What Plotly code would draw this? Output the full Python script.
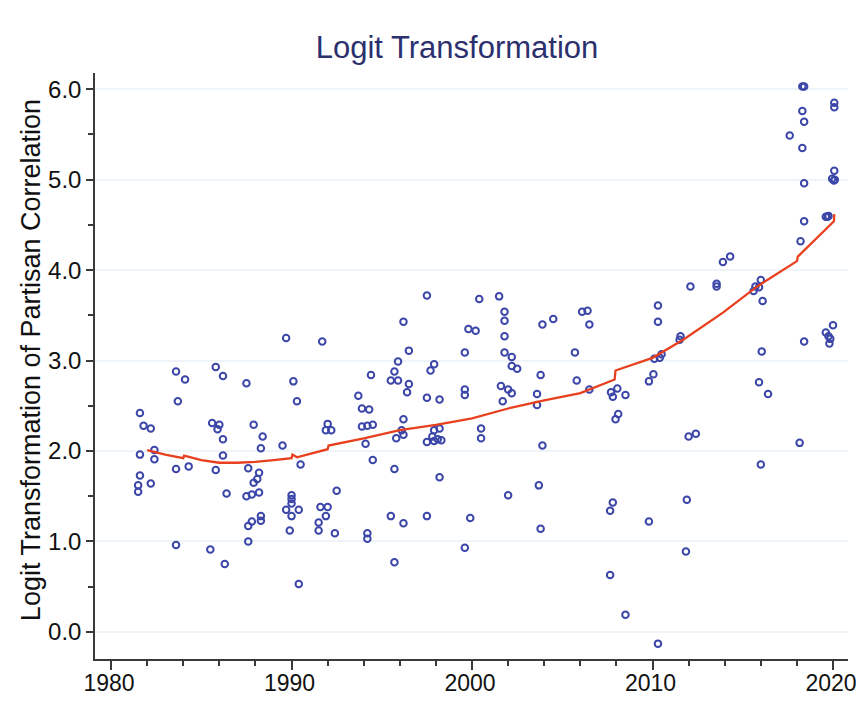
import plotly.graph_objects as go

# Scatter data: (year, logit transformation of partisan correlation)
years = [
    1983.6, 1984.1, 1985.8, 1986.2, 1987.5, 1990.1, 1981.6, 1981.8, 1982.2, 1983.7,
    1985.6, 1986.0, 1985.9, 1986.2, 1987.9, 1988.4, 1988.3, 1990.3, 1992.0, 1991.9,
    1992.2, 1981.6, 1982.4, 1982.4, 1989.5, 1986.2, 1983.6, 1984.3, 1985.8, 1987.6,
    1988.2, 1988.1, 1987.9, 1990.5, 1981.6, 1981.5, 1981.5, 1982.2, 1986.4, 1987.5,
    1987.8, 1988.2, 1990.0, 1990.0, 1990.0, 1989.7, 1990.4, 1990.0, 1989.9, 1988.3,
    1988.3, 1987.8, 1987.6, 1987.6, 1991.6, 1992.0, 1991.9, 1991.5, 1991.5, 1992.5,
    1992.4, 1983.6, 1985.5, 1986.3, 1990.4, 1989.7, 1991.7,
    1997.5, 2000.4, 2001.5, 2001.8, 2001.8, 1996.2, 1999.8, 2000.2, 2001.8, 2003.9,
    2004.5, 2006.1, 2006.4, 2006.5, 1996.5, 1999.6, 2001.8, 2002.2, 2005.7, 1995.9,
    1997.9,
    1997.7, 2002.2, 2002.5, 1994.4, 1995.7, 1995.5, 1995.9, 1996.5, 1996.4, 2003.8,
    2005.8, 2006.5, 2001.6, 2002.0, 2002.2, 1999.6, 1999.6, 2003.6, 2003.6, 2001.7,
    1997.5, 1998.2, 1993.7, 1993.9, 1994.3, 1996.2, 1993.9, 1994.2, 1994.5, 1996.1,
    1996.2, 1995.8, 1994.1, 1997.9, 1998.2, 1997.8, 1997.5, 1997.9, 1998.1, 1998.3,
    2000.5, 2000.5, 2003.9, 1994.5, 1995.7, 1998.2, 2003.7, 2002.0, 1995.5, 1996.2,
    1997.5, 1999.9, 2003.8, 1994.2, 1994.2, 1999.6, 1995.7,
    2018.3, 2018.4, 2020.07, 2020.07, 2018.3, 2018.4, 2017.6, 2018.3, 2020.07, 2019.95,
    2020.05, 2020.1, 2018.4, 2019.6, 2019.7, 2019.75, 2018.4, 2018.2, 2013.9, 2014.3,
    2012.1, 2013.55, 2013.55, 2016.0, 2015.7, 2015.9, 2015.6, 2016.1, 2010.3, 2010.3,
    2011.55, 2011.5, 2018.4, 2020.0, 2019.6, 2019.75, 2019.85, 2019.8, 2016.05, 2010.1,
    2010.4, 2010.5, 2015.9, 2016.4, 2018.15, 2007.7, 2007.8, 2008.05, 2008.5, 2009.8,
    2010.05, 2008.1, 2007.95, 2012.0, 2012.4, 2016.0, 2007.8, 2007.65, 2011.9, 2009.8,
    2011.85, 2007.65, 2008.5, 2010.3,
]
logit_values = [
    2.88, 2.79, 2.93, 2.83, 2.75, 2.77, 2.42, 2.28, 2.25, 2.55,
    2.31, 2.29, 2.24, 2.13, 2.29, 2.16, 2.03, 2.55, 2.30, 2.23,
    2.23, 1.96, 2.01, 1.91, 2.06, 1.95, 1.80, 1.83, 1.79, 1.81,
    1.76, 1.69, 1.65, 1.85, 1.73, 1.62, 1.55, 1.64, 1.53, 1.50,
    1.52, 1.54, 1.51, 1.47, 1.42, 1.35, 1.35, 1.28, 1.12, 1.28,
    1.23, 1.22, 1.17, 1.00, 1.38, 1.38, 1.28, 1.21, 1.12, 1.56,
    1.09, 0.96, 0.91, 0.75, 0.53, 3.25, 3.21,
    3.72, 3.68, 3.71, 3.54, 3.44, 3.43, 3.35, 3.33, 3.27, 3.40,
    3.46, 3.54, 3.55, 3.40, 3.11, 3.09, 3.09, 3.04, 3.09, 2.99,
    2.96,
    2.89, 2.94, 2.91, 2.84, 2.88, 2.78, 2.78, 2.74, 2.65, 2.84,
    2.78, 2.68, 2.72, 2.68, 2.64, 2.68, 2.62, 2.63, 2.51, 2.55,
    2.59, 2.57, 2.61, 2.47, 2.46, 2.35, 2.27, 2.28, 2.29, 2.23,
    2.18, 2.14, 2.08, 2.23, 2.25, 2.16, 2.10, 2.11, 2.13, 2.12,
    2.25, 2.14, 2.06, 1.90, 1.80, 1.71, 1.62, 1.51, 1.28, 1.20,
    1.28, 1.26, 1.14, 1.09, 1.03, 0.93, 0.77,
    6.03, 6.03, 5.85, 5.80, 5.76, 5.64, 5.49, 5.35, 5.10, 5.01,
    4.99, 5.00, 4.96, 4.59, 4.59, 4.60, 4.54, 4.32, 4.09, 4.15,
    3.82, 3.85, 3.82, 3.89, 3.82, 3.81, 3.77, 3.66, 3.61, 3.43,
    3.27, 3.23, 3.21, 3.39, 3.31, 3.27, 3.24, 3.19, 3.10, 3.02,
    3.03, 3.07, 2.76, 2.63, 2.09, 2.65, 2.60, 2.69, 2.62, 2.77,
    2.85, 2.41, 2.35, 2.16, 2.19, 1.85, 1.43, 1.34, 1.46, 1.22,
    0.89, 0.63, 0.19, -0.13,
]

# Smoothed fit line
fit_years = [1982.0, 1983.0, 1984.0, 1984.05, 1985.0, 1986.0, 1987.0, 1988.0, 1989.0,
             1990.0, 1990.05, 1990.3, 1992.0, 1992.05, 1994.0, 1996.0, 1998.0, 2000.0,
             2002.0, 2004.0, 2006.0, 2007.9, 2007.95, 2010.0, 2011.7, 2013.9, 2015.8,
             2018.0, 2018.05, 2020.05, 2020.07]
fit_values = [2.01, 1.96, 1.92, 1.95, 1.90, 1.87, 1.87, 1.88, 1.90,
              1.92, 1.96, 1.93, 2.02, 2.06, 2.14, 2.23, 2.29, 2.36,
              2.47, 2.56, 2.64, 2.79, 2.89, 3.03, 3.23, 3.53, 3.82,
              4.10, 4.15, 4.54, 4.62]

x_ticks = [1980, 1990, 2000, 2010, 2020]
y_ticks = [0.0, 1.0, 2.0, 3.0, 4.0, 5.0, 6.0]

FONT = "Liberation Sans, Arial, sans-serif"

fig = go.Figure()
fig.add_trace(go.Scatter(
    x=years, y=logit_values, mode="markers",
    marker=dict(symbol="circle-open", size=6.5, color="#3b46a8", line=dict(width=2, color="#3b46a8")),
    showlegend=False,
))
fig.add_trace(go.Scatter(
    x=fit_years, y=fit_values, mode="lines",
    line=dict(color="#e8401f", width=2.3),
    showlegend=False,
))

fig.update_layout(
    width=848, height=688,
    paper_bgcolor="white", plot_bgcolor="white",
    margin=dict(l=87, r=8, t=65, b=37),
    font=dict(family=FONT, color="#111111"),
    title=dict(text="Logit Transformation", x=0.5295, xanchor="center", y=0.943, yanchor="middle",
               font=dict(size=31, color="#2b306e", family=FONT)),
    annotations=[dict(
        text="Logit Transformation of Partisan Correlation",
        xref="paper", yref="paper", x=-0.085, y=0.51, xanchor="center", yanchor="middle",
        textangle=-90, showarrow=False, font=dict(size=27, color="#111111", family=FONT),
    )],
)
fig.update_xaxes(
    range=[1979.11, 2020.83], tickvals=x_ticks, ticktext=[str(v) for v in x_ticks],
    automargin=False, ticklabeloverflow="allow", ticklabelstandoff=-6, ticklabelshift=-2,
    showgrid=False, zeroline=False, showline=True, linecolor="#3a3a3a", linewidth=1.5,
    ticks="outside", ticklen=9, tickwidth=1.5, tickcolor="#3a3a3a",
    minor=dict(dtick=2, ticks="outside", ticklen=5, tickwidth=1.5, tickcolor="#3a3a3a", showgrid=False),
    tickfont=dict(size=23, color="#111111"),
)
fig.update_yaxes(
    range=[-0.30, 6.18], tickvals=y_ticks, tickformat=".1f",
    automargin=False, ticklabeloverflow="allow",
    showgrid=True, gridcolor="#eef4f7", gridwidth=1.5, zeroline=False,
    showline=True, linecolor="#3a3a3a", linewidth=1.5,
    ticks="outside", ticklen=7, tickwidth=1.5, tickcolor="#3a3a3a",
    minor=dict(dtick=0.5, ticks="outside", ticklen=5, tickwidth=1.5, tickcolor="#3a3a3a", showgrid=False),
    tickfont=dict(size=24, color="#111111"),
)

fig.write_html("out.html")
